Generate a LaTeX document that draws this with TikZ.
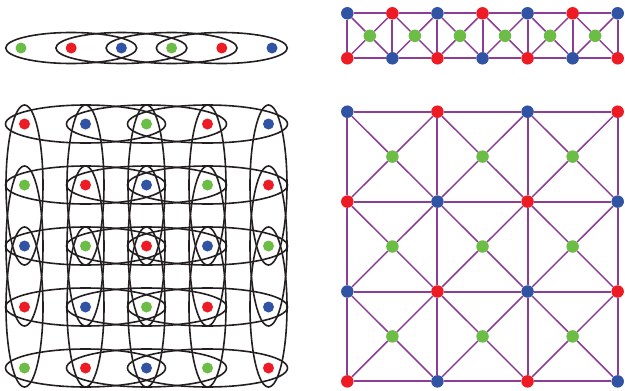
\documentclass[tikz,border=0pt]{standalone}
\definecolor{dR}{RGB}{237,28,36}
\definecolor{dB}{RGB}{49,83,164}
\definecolor{dG}{RGB}{108,189,69}
\definecolor{eP}{RGB}{140,62,150}
\definecolor{eK}{RGB}{35,31,32}
\tikzset{
  ldot/.style={circle,inner sep=0pt,minimum size=11pt,draw=none},
  rdot/.style={circle,inner sep=0pt,minimum size=12.5pt,draw=none},
  hedge/.style={draw=eK,line width=1.6pt},
  gedge/.style={draw=eP,line width=1.5pt},
  sedge/.style={draw=eP,line width=2pt}
}
\begin{document}
\begin{tikzpicture}[x=1pt,y=-1pt]
\useasboundingbox (0,0) rectangle (625,391);
% ---------- top left: path hypergraph ----------
\foreach \i/\c in {1/dG,2/dR,3/dB,4/dG,5/dR,6/dB}
  \node[ldot,fill=\c] (t\i) at ({21+50.2*(\i-1)},48) {};
\foreach \i in {2,...,5}
  \draw[hedge] (t\i.center) ellipse [x radius=65.5pt, y radius=15.5pt];
% ---------- bottom left: grid hypergraph ----------
\foreach \r/\cols in {1/{dR,dB,dG,dR,dB},2/{dG,dR,dB,dG,dR},3/{dB,dG,dR,dB,dG},4/{dR,dB,dG,dR,dB},5/{dG,dR,dB,dG,dR}}
  \foreach \c [count=\k] in \cols
    \node[ldot,fill=\c] (g\r-\k) at ({24.5+61*(\k-1)},{124+61*(\r-1)}) {};
\foreach \r in {1,...,5}
  \foreach \k in {2,3,4}
    \draw[hedge] (g\r-\k.center) ellipse [x radius=80pt, y radius=19pt];
\foreach \k in {1,...,5}
  \foreach \r in {2,3,4}
    \draw[hedge] (g\r-\k.center) ellipse [x radius=18.5pt, y radius=80pt];
% ---------- top right: strip ----------
\foreach \i/\c in {1/dB,2/dR,3/dB,4/dR,5/dB,6/dR,7/dB}
  \node[rdot,fill=\c] (a\i) at ({347.3+45.07*(\i-1)},13.3) {};
\foreach \i/\c in {1/dR,2/dB,3/dR,4/dB,5/dR,6/dB,7/dR}
  \node[rdot,fill=\c] (b\i) at ({347.3+45.07*(\i-1)},58.3) {};
\foreach \i in {1,...,6}
  \node[rdot,fill=dG] (m\i) at ({369.8+45.07*(\i-1)},35.8) {};
\foreach \i in {1,...,7}
  \draw[sedge] (a\i) -- (b\i);
\foreach \i in {1,...,6}{
  \pgfmathtruncatemacro{\nj}{\i+1}
  \draw[sedge] (a\i) -- (a\nj) (b\i) -- (b\nj);
  \draw[gedge] (m\i) -- (a\i) (m\i) -- (a\nj) (m\i) -- (b\i) (m\i) -- (b\nj);
}
% ---------- bottom right: grid ----------
\foreach \r/\cols in {1/{dB,dR,dB,dR},2/{dR,dB,dR,dB},3/{dB,dR,dB,dR},4/{dR,dB,dR,dB}}
  \foreach \c [count=\k] in \cols
    \node[rdot,fill=\c] (p\r-\k) at ({347.3+90.13*(\k-1)},{111.7+89.9*(\r-1)}) {};
\foreach \r in {1,2,3}
  \foreach \k in {1,2,3}
    \node[rdot,fill=dG] (c\r-\k) at ({392.4+90.13*(\k-1)},{156.6+89.9*(\r-1)}) {};
\foreach \r in {1,...,4}{
  \foreach \k in {1,2,3}{
    \pgfmathtruncatemacro{\nk}{\k+1}
    \draw[sedge] (p\r-\k) -- (p\r-\nk);
    \draw[sedge] (p\k-\r) -- (p\nk-\r);
  }
}
\foreach \r in {1,2,3}{
  \foreach \k in {1,2,3}{
    \pgfmathtruncatemacro{\nr}{\r+1}
    \pgfmathtruncatemacro{\nk}{\k+1}
    \draw[gedge] (c\r-\k) -- (p\r-\k);
    \draw[gedge] (c\r-\k) -- (p\r-\nk);
    \draw[gedge] (c\r-\k) -- (p\nr-\k);
    \draw[gedge] (c\r-\k) -- (p\nr-\nk);
  }
}
\end{tikzpicture}
\end{document}
